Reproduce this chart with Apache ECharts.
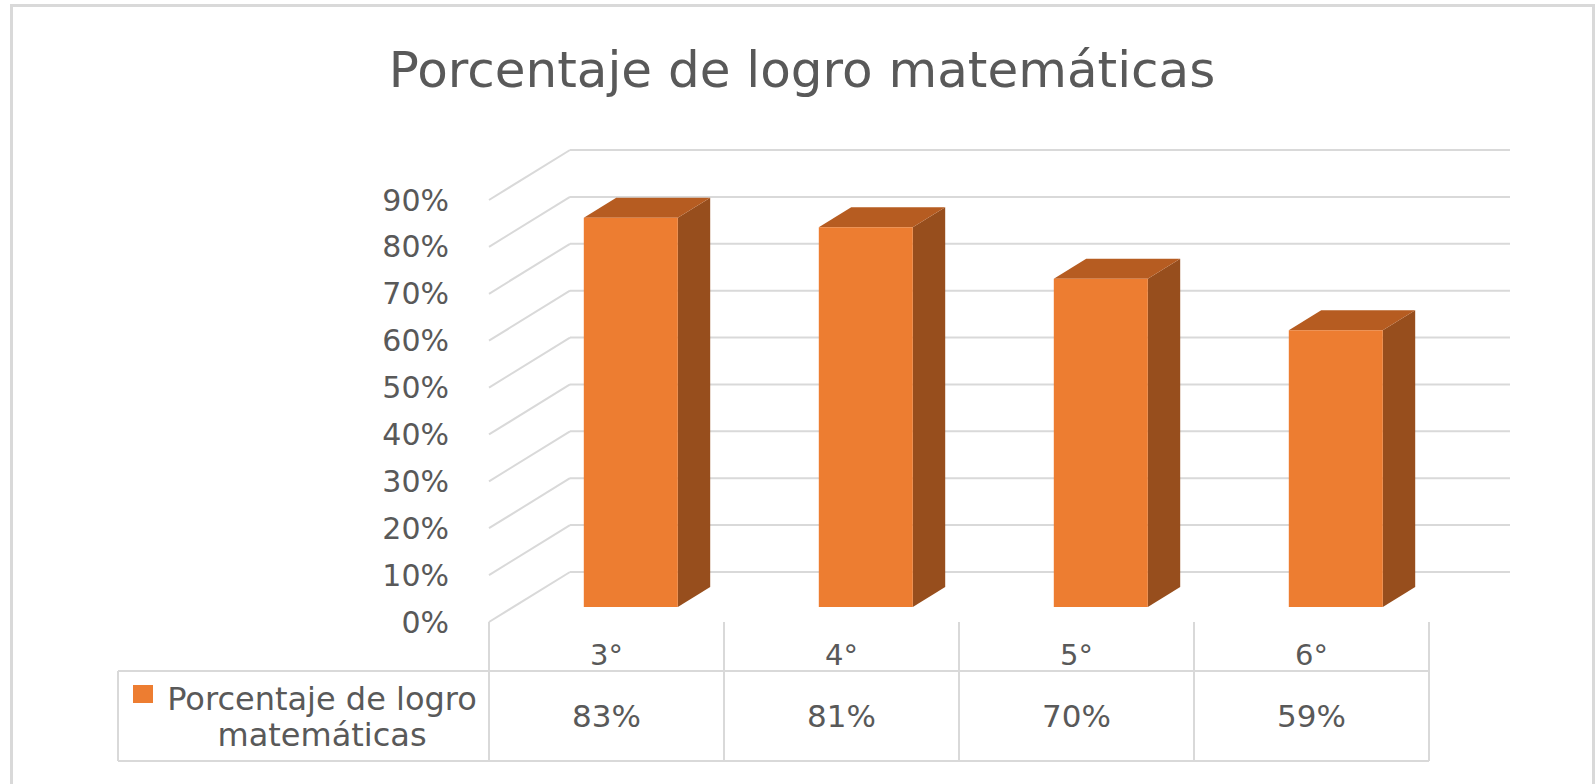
<!DOCTYPE html>
<html>
<head>
<meta charset="utf-8">
<script src="https://cdn.jsdelivr.net/npm/echarts@6/dist/echarts.min.js"></script>
<style>
html,body{margin:0;padding:0;background:#fff;}
#c{width:1595px;height:784px;}
</style>
</head>
<body>
<div id="c"></div>
<script>
// ---- data ----
const categories = ['3°', '4°', '5°', '6°'];
const values = [83, 81, 70, 59];
const yTicks = [0, 10, 20, 30, 40, 50, 60, 70, 80, 90];
const seriesName = 'Porcentaje de logro matemáticas';
const legendLines = ['Porcentaje de logro', 'matemáticas'];
const titleText = 'Porcentaje de logro matemáticas';

// ---- style constants ----
const FONT = 'DejaVu Sans';
const TXT = '#595959';
const GRIDC = '#D9D9D9';
const DEPTH = { x: 81, y: -50 };   // oblique projection of full depth
const F0 = 0.3, F1 = 0.7;          // bar depth span (fraction of depth)
const BARW = 0.4;                  // bar width / band
const COL_FRONT = '#ED7D31', COL_TOP = '#B65C21', COL_SIDE = '#974E1D';

const chart = echarts.init(document.getElementById('c'), null, { renderer: 'svg', width: 1595, height: 784 });

function renderWall(params, api) {
  const v = api.value(1);
  const band = api.size([1, 0])[0];
  const pL = api.coord([0, v]);
  const pR = api.coord([categories.length - 1, v]);
  const lx = pL[0] - band / 2, rx = pR[0] + band / 2, y = pL[1];
  const st = { stroke: GRIDC, lineWidth: 2 };
  return {
    type: 'group',
    children: [
      { type: 'line', shape: { x1: lx, y1: y, x2: lx + DEPTH.x, y2: y + DEPTH.y }, style: st },
      { type: 'line', shape: { x1: lx + DEPTH.x, y1: y + DEPTH.y, x2: rx + DEPTH.x, y2: y + DEPTH.y }, style: st }
    ]
  };
}

function renderBar(params, api) {
  const i = api.value(0), v = api.value(1);
  const t = api.coord([i, v]);
  const b = api.coord([i, 0]);
  const band = api.size([1, 0])[0];
  const w = band * BARW;
  const xl = t[0] - w / 2, xr = t[0] + w / 2;
  const ax = F0 * DEPTH.x, ay = F0 * DEPTH.y, bx = F1 * DEPTH.x, by = F1 * DEPTH.y;
  return {
    type: 'group',
    children: [
      { type: 'polygon', shape: { points: [[xr + ax, t[1] + ay], [xr + bx, t[1] + by], [xr + bx, b[1] + by], [xr + ax, b[1] + ay]] }, style: { fill: COL_SIDE } },
      { type: 'polygon', shape: { points: [[xl + ax, t[1] + ay], [xr + ax, t[1] + ay], [xr + bx, t[1] + by], [xl + bx, t[1] + by]] }, style: { fill: COL_TOP } },
      { type: 'rect', shape: { x: xl + ax, y: t[1] + ay, width: w, height: b[1] - t[1] }, style: { fill: COL_FRONT } }
    ]
  };
}

const ROW1 = 49, ROW2 = 139, TABLE_LEFT = 118;
function renderTable(params, api) {
  const i = api.value(0), v = api.value(1);
  const b = api.coord([i, 0]);
  const band = api.size([1, 0])[0];
  const lx = b[0] - band / 2, rx = b[0] + band / 2, y0 = b[1];
  const st = { stroke: GRIDC, lineWidth: 2 };
  const ch = [
    { type: 'line', shape: { x1: lx, y1: y0, x2: lx, y2: y0 + ROW2 }, style: st },
    { type: 'line', shape: { x1: lx, y1: y0 + ROW1, x2: rx, y2: y0 + ROW1 }, style: st },
    { type: 'line', shape: { x1: lx, y1: y0 + ROW2, x2: rx, y2: y0 + ROW2 }, style: st },
    { type: 'text', x: b[0], y: y0 + (ROW1 + ROW2) / 2, style: { text: v + '%', fill: TXT, font: '31px "' + FONT + '"', textAlign: 'center', textVerticalAlign: 'middle' } }
  ];
  if (i === categories.length - 1) {
    ch.push({ type: 'line', shape: { x1: rx, y1: y0, x2: rx, y2: y0 + ROW2 }, style: st });
  }
  if (i === 0) {
    const cx = 322, my = y0 + (ROW1 + ROW2) / 2;
    ch.push(
      { type: 'line', shape: { x1: TABLE_LEFT, y1: y0 + ROW1, x2: lx, y2: y0 + ROW1 }, style: st },
      { type: 'line', shape: { x1: TABLE_LEFT, y1: y0 + ROW2, x2: lx, y2: y0 + ROW2 }, style: st },
      { type: 'line', shape: { x1: TABLE_LEFT, y1: y0 + ROW1, x2: TABLE_LEFT, y2: y0 + ROW2 }, style: st },
      { type: 'rect', shape: { x: 133, y: my - 31, width: 20, height: 18 }, style: { fill: COL_FRONT } },
      { type: 'text', x: cx, y: my - 17, style: { text: legendLines[0], fill: TXT, font: '32px "' + FONT + '"', textAlign: 'center', textVerticalAlign: 'middle' } },
      { type: 'text', x: cx, y: my + 19, style: { text: legendLines[1], fill: TXT, font: '32px "' + FONT + '"', textAlign: 'center', textVerticalAlign: 'middle' } }
    );
  }
  return { type: 'group', children: ch };
}

const option = {
  backgroundColor: '#fff',
  animation: false,
  title: {
    text: titleText, left: 797, top: 40, textAlign: 'center',
    textStyle: { fontFamily: FONT, fontSize: 50, fontWeight: 'normal', color: TXT }
  },
  graphic: [
    { type: 'rect', shape: { x: 11.5, y: 5.5, width: 1582, height: 790 }, style: { fill: 'none', stroke: GRIDC, lineWidth: 3 }, silent: true }
  ],
  grid: { left: 489, right: 166, top: 200, bottom: 162 },
  xAxis: {
    type: 'category', data: categories,
    axisLine: { show: false }, axisTick: { show: false }, splitLine: { show: false },
    axisLabel: { color: TXT, fontFamily: FONT, fontSize: 29, margin: 18 }
  },
  yAxis: {
    type: 'value', min: 0, max: 90, interval: 10,
    axisLine: { show: false }, axisTick: { show: false }, splitLine: { show: false },
    axisLabel: { color: TXT, fontFamily: FONT, fontSize: 30, margin: 40, formatter: '{value}%' }
  },
  series: [
    { type: 'custom', name: 'walls', data: yTicks.map(v => [0, v]), renderItem: renderWall, clip: false, silent: true, z: 1 },
    { type: 'custom', name: seriesName, data: values.map((v, i) => [i, v]), renderItem: renderBar, clip: false, z: 2 },
    { type: 'custom', name: 'table', data: values.map((v, i) => [i, v]), renderItem: renderTable, clip: false, silent: true, z: 3 }
  ]
};
chart.setOption(option);
</script>
</body>
</html>
